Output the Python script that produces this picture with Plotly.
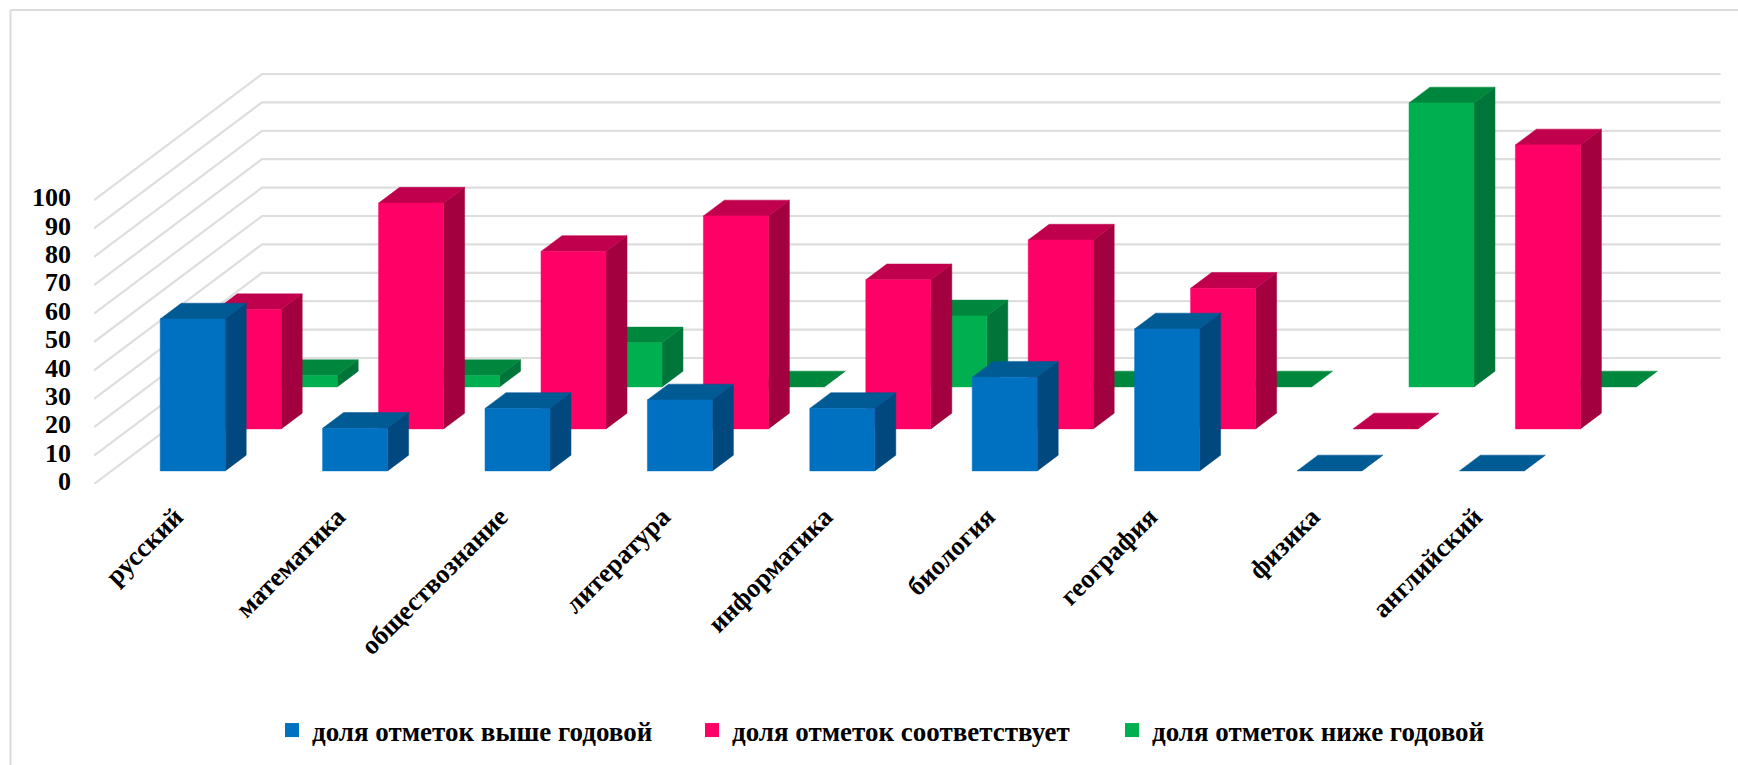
import plotly.graph_objects as go

categories = ["русский", "математика", "обществознание", "литература", "информатика",
              "биология", "география", "физика", "английский"]
series_names = ["доля отметок выше годовой", "доля отметок соответствует", "доля отметок ниже годовой"]
above = [53.5, 15, 22, 25, 22, 33, 50, 0, 0]
match = [42, 79.5, 62.5, 75, 52.5, 66.5, 49.5, 0, 100]
below = [4, 4, 15.5, 0, 25, 0, 0, 100, 0]
y_ticks = list(range(0, 101, 10))

W, H = 1738, 765
LEFT, RIGHT, TOP, BOTTOM = 94, 1724, 55, 484
SLOT_PX = 162.4
UNIT_PX = 2.84
DX_PX, DY_PX = 56.0, 42.0      # screen shift for one series slot of depth
KX = DX_PX / SLOT_PX
KY = DY_PX / UNIT_PX
BAR_W = 65 / SLOT_PX
BAR_D = 0.375
N = len(categories)


def proj(x, depth, v):
    return x + depth * KX, v + depth * KY


def polys(faces):
    xs, ys = [], []
    for f in faces:
        for p in f:
            xs.append(p[0]); ys.append(p[1])
        xs.append(f[0][0]); ys.append(f[0][1])
        xs.append(None); ys.append(None)
    return xs, ys


fig = go.Figure()

# gridlines: side wall + back wall
gx, gy = [], []
for t in y_ticks:
    pts = [proj(0, 0, t), proj(0, 3, t), proj(N - 3 / SLOT_PX, 3, t)]
    for p in pts:
        gx.append(p[0]); gy.append(p[1])
    gx.append(None); gy.append(None)
fig.add_trace(go.Scatter(x=gx, y=gy, mode="lines", line=dict(color="#DEDEDE", width=2.2),
                         hoverinfo="skip", showlegend=False))

colors = [("#0070C0", "#00487D", "#005A94"),
          ("#FF0066", "#A3003F", "#C0004D"),
          ("#00B050", "#00753A", "#00873E")]
values = [above, match, below]

for s in (2, 1, 0):
    vals = values[s]
    front, side, top = [], [], []
    d0, d1 = s + 0.5 - BAR_D / 2, s + 0.5 + BAR_D / 2
    for i, v in enumerate(vals):
        x0 = i + 0.5 - BAR_W / 2
        x1 = x0 + BAR_W
        top.append([proj(x0, d0, v), proj(x1, d0, v), proj(x1, d1, v), proj(x0, d1, v)])
        if v > 0:
            front.append([proj(x0, d0, 0), proj(x1, d0, 0), proj(x1, d0, v), proj(x0, d0, v)])
            side.append([proj(x1, d0, 0), proj(x1, d1, 0), proj(x1, d1, v), proj(x1, d0, v)])
    c_front, c_side, c_top = colors[s]
    for faces, c in ((side, c_side), (top, c_top), (front, c_front)):
        if faces:
            fx, fy = polys(faces)
            fig.add_trace(go.Scatter(x=fx, y=fy, mode="lines", fill="toself", fillcolor=c,
                                     line=dict(color=c, width=0.5), hoverinfo="skip", showlegend=False))

# legend entries
for s in range(3):
    fig.add_trace(go.Scatter(x=[None], y=[None], mode="markers", name=series_names[s],
                             marker=dict(symbol="square", size=14, color=colors[s][0])))

serif = "Liberation Serif"
PW, PH = RIGHT - LEFT, BOTTOM - TOP
border = dict(color="#DCDCDC", width=2)
fig.update_layout(
    width=W, height=H,
    margin=dict(l=LEFT, r=W - RIGHT, t=TOP, b=H - BOTTOM, pad=0, autoexpand=False),
    paper_bgcolor="white", plot_bgcolor="white",
    font=dict(family=serif, color="black"),
    showlegend=True,
    legend=dict(orientation="h", x=272 / W, xanchor="left", y=1 - 706 / H, yanchor="top",
                yref="container", xref="container",
                entrywidth=375, entrywidthmode="pixels", traceorder="normal",
                font=dict(family=serif, size=27, weight="bold"), bgcolor="rgba(0,0,0,0)"),
    xaxis=dict(range=[0, PW / SLOT_PX], tickmode="array",
               tickvals=[i + 0.5 for i in range(N)], ticktext=categories,
               tickangle=-45, showgrid=False, zeroline=False, showline=False, ticks="",
               ticklabelstandoff=11,
               tickfont=dict(family=serif, size=26.5, weight="bold")),
    yaxis=dict(range=[0, PH / UNIT_PX], tickmode="array", tickvals=y_ticks,
               showgrid=False, zeroline=False, showline=False, ticks="",
               ticklabelstandoff=22, ticklabelshift=-3,
               tickfont=dict(family=serif, size=26, weight="bold")),
    shapes=[
        dict(type="line", xref="paper", yref="paper",
             x0=(10.5 - LEFT) / PW, x1=(W - LEFT) / PW,
             y0=(BOTTOM - 10) / PH, y1=(BOTTOM - 10) / PH, line=border, layer="below"),
        dict(type="line", xref="paper", yref="paper",
             x0=(10.5 - LEFT) / PW, x1=(10.5 - LEFT) / PW,
             y0=(BOTTOM - H) / PH, y1=(BOTTOM - 10) / PH, line=border, layer="below"),
    ],
)
fig.write_html("out.html", config={"displayModeBar": False},
               post_script="document.body.style.margin='0';")
